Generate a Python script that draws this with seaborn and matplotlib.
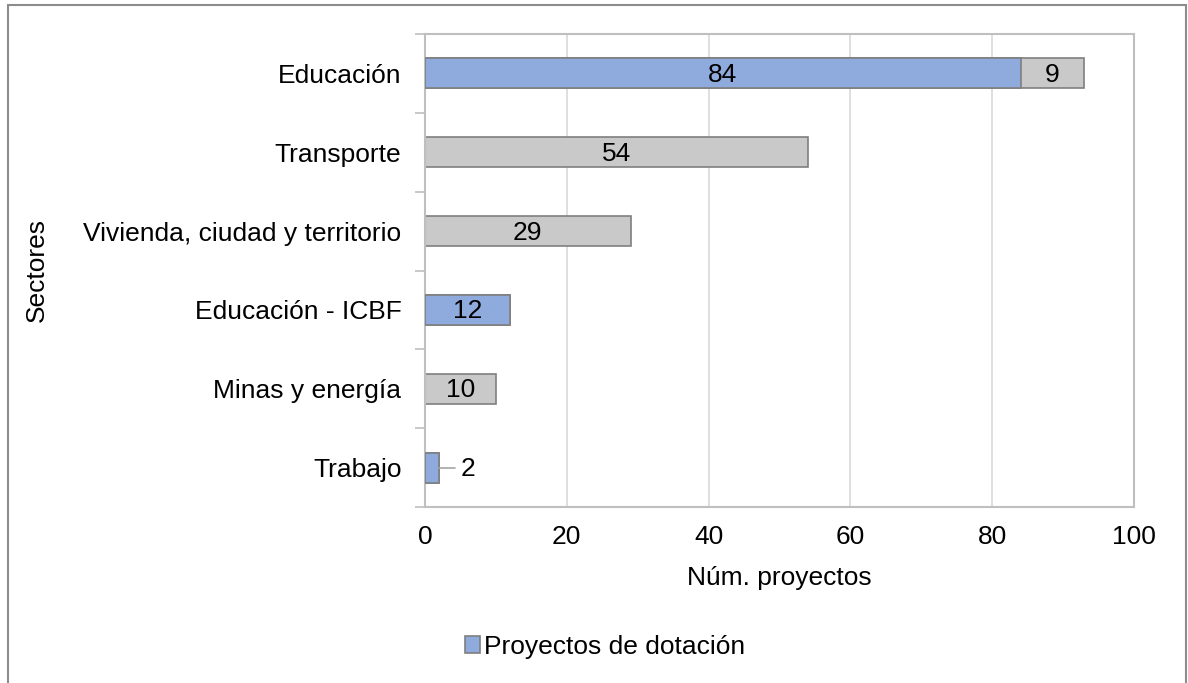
import numpy as np
import pandas as pd
import seaborn as sns
import matplotlib.pyplot as plt
from matplotlib.patches import Rectangle

# Data
sectores = ["Educación", "Transporte", "Vivienda, ciudad y territorio",
            "Educación - ICBF", "Minas y energía", "Trabajo"]
dotacion = [84, 0, 0, 12, 0, 2]
otros = [9, 54, 29, 0, 10, 0]

df = pd.DataFrame({"sector": sectores, "dotacion": dotacion, "otros": otros})
df["total"] = df["dotacion"] + df["otros"]

sns.set_theme(style="white")
plt.rcParams["font.family"] = ["Liberation Sans", "DejaVu Sans"]
plt.rcParams["text.color"] = "black"

BLUE = "#8FAADC"
GREY = "#C9C9C9"
EDGE = "#7F7F7F"
FS = 19

fig = plt.figure(figsize=(11.88, 6.83), dpi=100)
ax = fig.add_axes([425 / 1188, 1 - 507 / 683, (1134 - 425) / 1188, (507 - 34) / 683])

# grey = stacked total, blue drawn on top
sns.barplot(data=df, y="sector", x="total", color=GREY, width=0.38,
            edgecolor=EDGE, linewidth=1.2, saturation=1, ax=ax, zorder=2)
sns.barplot(data=df, y="sector", x="dotacion", color=BLUE, width=0.38,
            edgecolor=EDGE, linewidth=1.2, saturation=1, ax=ax, zorder=3,
            label="Proyectos de dotación")

# hide the zero-width bars' edges
for p in ax.patches:
    if p.get_width() == 0:
        p.set_visible(False)

# value labels
for i, row in df.iterrows():
    if row["dotacion"] > 0:
        if row["dotacion"] >= 5:
            ax.text(row["dotacion"] / 2, i + 0.02, str(row["dotacion"]), ha="center",
                    va="center", fontsize=FS, color="black", zorder=5)
        else:
            ax.plot([row["dotacion"], row["dotacion"] + 2.3], [i, i],
                    color="#A6A6A6", lw=1.2, zorder=4)
            ax.text(row["dotacion"] + 3.0, i + 0.02, str(row["dotacion"]), ha="left",
                    va="center", fontsize=FS, color="black", zorder=5)
    if row["otros"] > 0:
        ax.text(row["dotacion"] + row["otros"] / 2, i + 0.02, str(row["otros"]),
                ha="center", va="center", fontsize=FS, color="black", zorder=5)

ax.set_xlim(0, 100)
ax.set_ylim(len(sectores) - 0.5, -0.5)
ax.set_xticks(range(0, 101, 20))
ax.xaxis.grid(True, color="#D9D9D9", lw=1.2, zorder=0)
ax.set_axisbelow(True)
ax.tick_params(axis="x", labelsize=FS, length=0, pad=13, colors="black")
ax.tick_params(axis="y", labelsize=FS, length=0, pad=17, colors="black")

# category separator ticks on the left
ax.set_yticks(np.arange(-0.5, len(sectores), 1), minor=True)
ax.tick_params(axis="y", which="minor", left=True, length=7, width=1.2,
               color="#BFBFBF", direction="out")

for side in ["top", "right", "left", "bottom"]:
    ax.spines[side].set_color("#BFBFBF")
    ax.spines[side].set_linewidth(1.5)

ax.set_xlabel("Núm. proyectos", fontsize=FS, labelpad=12, color="black")
ax.set_ylabel("Sectores", fontsize=FS, color="black")
ax.yaxis.set_label_coords(-(425 - 49) / (1134 - 425), 0.5)

handles, labels = ax.get_legend_handles_labels()
leg = fig.legend(handles[-1:], labels[-1:], loc="center",
                 bbox_to_anchor=(605 / 1188, 1 - 647 / 683), frameon=False,
                 fontsize=FS, handlelength=0.6, handleheight=0.6,
                 handletextpad=0.15, labelcolor="black")
if ax.get_legend() is not None:
    ax.get_legend().remove()

# outer chart border
fig.patches.append(Rectangle((8 / 1188, -0.05), (1186 - 8) / 1188, 1.05 - 5 / 683,
                             transform=fig.transFigure, fill=False,
                             edgecolor="#8C8C8C", lw=1.5))

fig.savefig("out.png", dpi=100)
